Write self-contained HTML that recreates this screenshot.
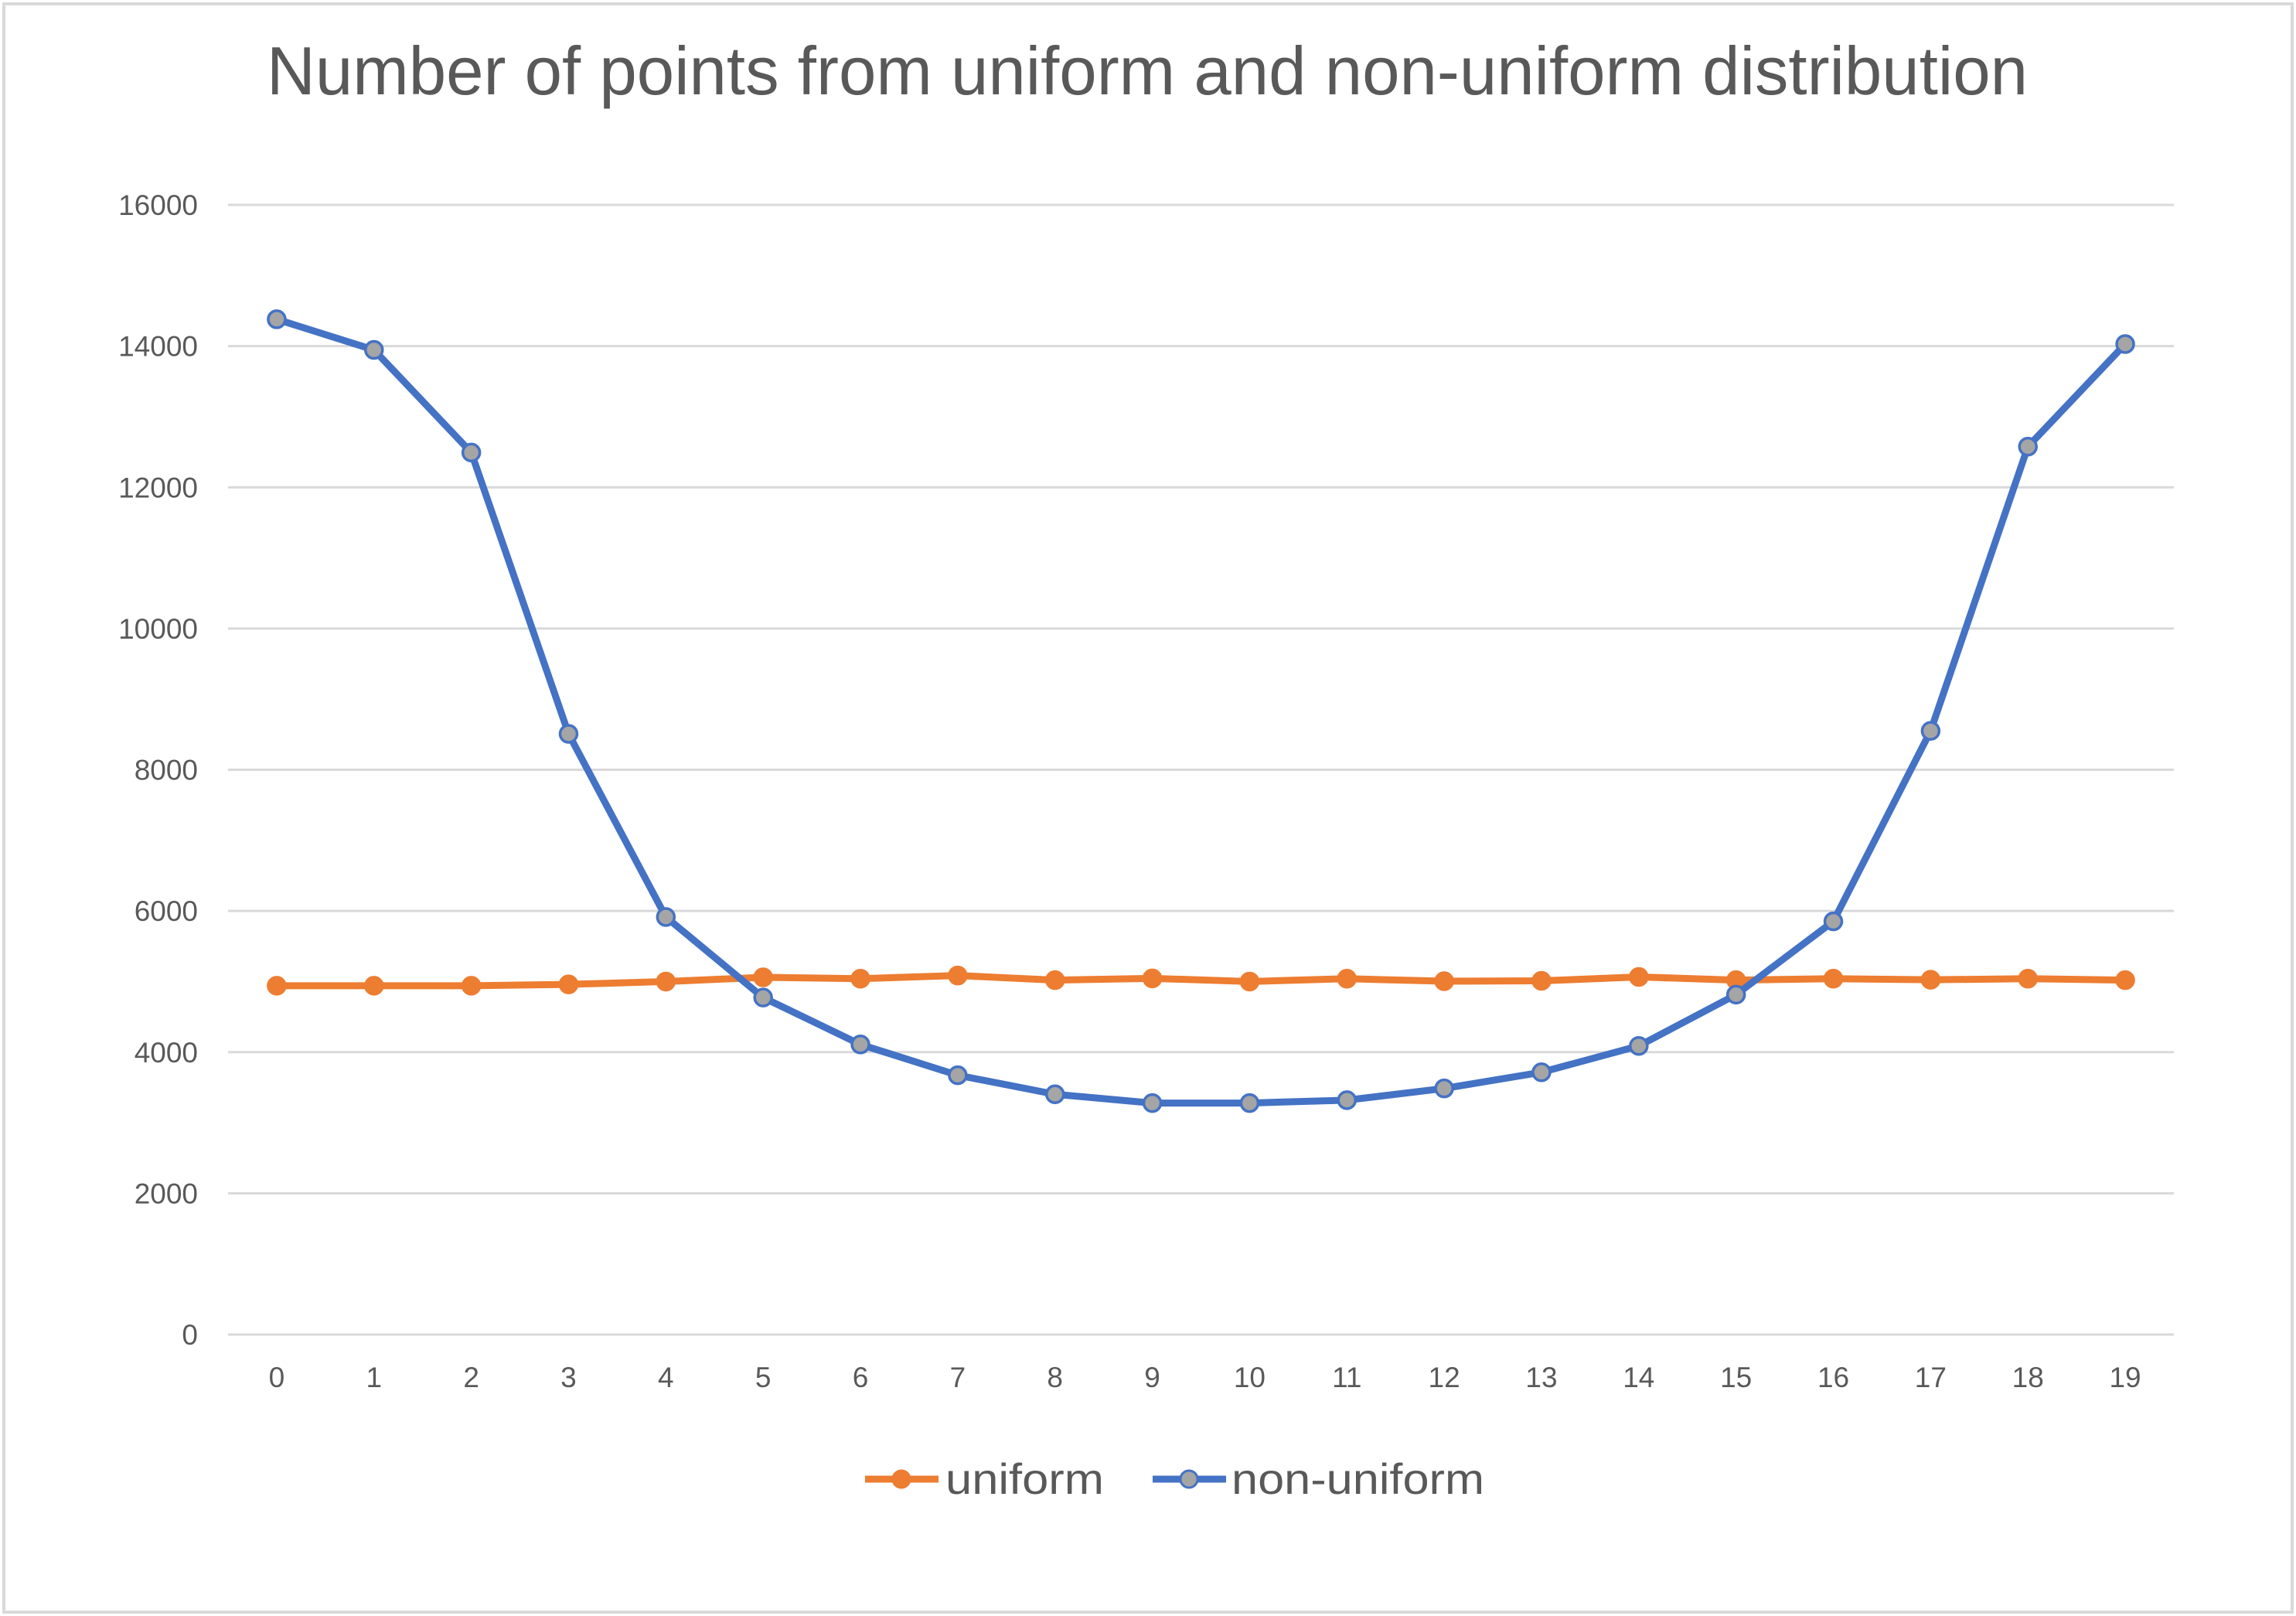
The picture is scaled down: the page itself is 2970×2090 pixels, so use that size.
<!DOCTYPE html>
<html><head><meta charset="utf-8"><style>
html,body{margin:0;padding:0;background:#fff;}
svg{display:block;}
text{font-family:"Liberation Sans",sans-serif;fill:#595959;}
</style></head><body>
<svg id="chart" width="2970" height="2090" viewBox="0 0 2970 2090">
<rect x="5" y="5" width="2960" height="2080" fill="#fff" stroke="#d9d9d9" stroke-width="4"/>
<text x="1484" y="122" font-size="88" text-anchor="middle" textLength="2278" lengthAdjust="spacingAndGlyphs">Number of points from uniform and non-uniform distribution</text>
<g id="grid"></g><g id="yticks"></g><g id="xticks"></g><g id="series"></g>
<g>
<g>
<line x1="1119" y1="1913" x2="1214" y2="1913" stroke="#ED7D31" stroke-width="9"/>
<circle cx="1166" cy="1913" r="11" fill="#ED7D31" stroke="#ED7D31" stroke-width="3"/>
<text x="1223" y="1932" font-size="56" textLength="205" lengthAdjust="spacingAndGlyphs">uniform</text>
</g>
<g>
<line x1="1491" y1="1913" x2="1586" y2="1913" stroke="#4472C4" stroke-width="9"/>
<circle cx="1538" cy="1913" r="11" fill="#A5A5A5" stroke="#4472C4" stroke-width="3"/>
<text x="1593" y="1932" font-size="56" textLength="327" lengthAdjust="spacingAndGlyphs">non-uniform</text>
</g>
</g>
</svg>
<script>
const categories=[0,1,2,3,4,5,6,7,8,9,10,11,12,13,14,15,16,17,18,19];
const uniformValues=[4940,4940,4940,4960,5000,5060,5040,5085,5020,5045,5000,5040,5005,5010,5065,5020,5040,5025,5040,5020];
const nonUniformValues=[14380,13946,12493,8508,5914,4773,4109,3673,3403,3279,3279,3320,3486,3715,4088,4814,5852,8550,12576,14029];
const yTicks=[0,2000,4000,6000,8000,10000,12000,14000,16000];
const NS='http://www.w3.org/2000/svg';
const L=295,R=2812,T=265,B=1726,YMAX=16000;
const band=(R-L)/categories.length;
function xPos(i){return L+band*(i+0.5);}
function yPos(v){return B-(v/YMAX)*(B-T);}
function mk(tag,attrs,parent){const e=document.createElementNS(NS,tag);for(const k in attrs)e.setAttribute(k,attrs[k]);parent.appendChild(e);return e;}
const grid=document.getElementById('grid'),yt=document.getElementById('yticks'),xt=document.getElementById('xticks'),ser=document.getElementById('series');
yTicks.forEach(v=>{
 const g=mk('line',{x1:L,x2:R,y1:yPos(v),y2:yPos(v),stroke:'#d9d9d9','stroke-width':3},grid);
 
 
 const t=mk('text',{x:256,y:yPos(v)+13,'font-size':37,'text-anchor':'end'},yt);
 t.textContent=String(v);
 
 
});
categories.forEach((c,i)=>{
 const t=mk('text',{x:xPos(i),y:1794,'font-size':37,'text-anchor':'middle'},xt);
 t.textContent=String(c);
 
 
});
function drawSeries(vals,color,fill,name){
 const g=mk('g',{},ser);
 
 
 const pts=vals.map((v,i)=>xPos(i)+','+yPos(v)).join(' ');
 const p=mk('polyline',{points:pts,fill:'none',stroke:color,'stroke-width':9,'stroke-linejoin':'round','stroke-linecap':'round'},g);
 
 
 vals.forEach((v,i)=>{
  const c=mk('circle',{cx:xPos(i),cy:yPos(v),r:11,fill:fill,stroke:color,'stroke-width':3.5},g);
  
  
 });
}
drawSeries(uniformValues,'#ED7D31','#ED7D31','uniform');
drawSeries(nonUniformValues,'#4472C4','#A5A5A5','non-uniform');
</script>
</body></html>
